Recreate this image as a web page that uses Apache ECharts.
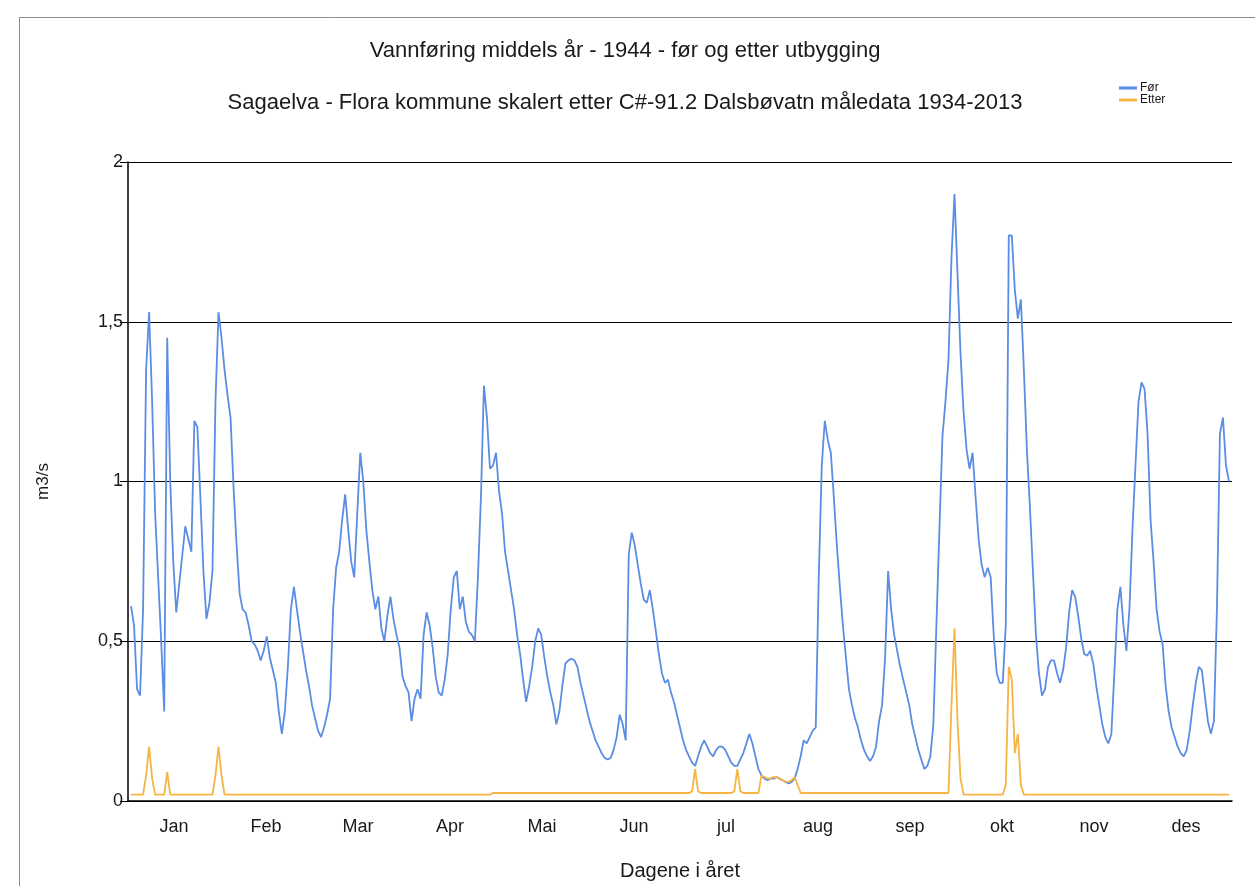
<!DOCTYPE html>
<html><head><meta charset="utf-8">
<script src="https://cdn.jsdelivr.net/npm/echarts@6/dist/echarts.min.js"></script>
<style>html,body{margin:0;padding:0;background:#fff}#c{width:1255px;height:886px}</style>
</head><body><div id="c"></div>
<script>
const tittel = "Vannføring middels år - 1944 - før og etter utbygging";
const undertittel = "Sagaelva - Flora kommune skalert etter C#-91.2 Dalsbøvatn måledata 1934-2013";
const maaneder = ["Jan","Feb","Mar","Apr","Mai","Jun","jul","aug","sep","okt","nov","des"];
const serieNavn = ["Før","Etter"];
// daily values, day 1..365
const fer = [
0.61,0.55,0.35,0.33,0.60,1.35,1.53,1.25,0.90,0.70,
0.50,0.28,1.45,1.00,0.75,0.59,0.68,0.77,0.86,0.82,
0.78,1.19,1.17,0.95,0.72,0.57,0.62,0.72,1.25,1.53,
1.45,1.35,1.27,1.20,0.98,0.80,0.65,0.60,0.59,0.55,
0.50,0.49,0.47,0.44,0.47,0.515,0.45,0.41,0.37,0.28,
0.21,0.28,0.42,0.60,0.67,0.60,0.53,0.47,0.41,0.36,
0.30,0.26,0.22,0.20,0.23,0.27,0.32,0.60,0.73,0.78,
0.88,0.96,0.85,0.75,0.70,0.90,1.09,1.00,0.85,0.75,
0.66,0.60,0.64,0.54,0.50,0.58,0.64,0.57,0.52,0.48,
0.39,0.36,0.34,0.25,0.32,0.35,0.32,0.52,0.59,0.55,
0.48,0.39,0.34,0.33,0.38,0.46,0.60,0.70,0.72,0.60,
0.64,0.56,0.53,0.52,0.50,0.70,0.95,1.30,1.20,1.04,
1.05,1.09,0.97,0.90,0.78,0.72,0.66,0.60,0.52,0.46,
0.38,0.31,0.36,0.42,0.50,0.54,0.52,0.45,0.39,0.34,
0.30,0.24,0.28,0.36,0.43,0.44,0.445,0.44,0.42,0.37,
0.33,0.29,0.25,0.22,0.19,0.17,0.15,0.135,0.13,0.135,
0.16,0.20,0.27,0.24,0.19,0.77,0.84,0.80,0.74,0.68,
0.63,0.62,0.66,0.60,0.53,0.46,0.40,0.37,0.38,0.34,
0.31,0.27,0.23,0.19,0.16,0.14,0.12,0.11,0.14,0.17,
0.19,0.17,0.15,0.14,0.16,0.17,0.17,0.16,0.14,0.12,
0.11,0.11,0.13,0.15,0.18,0.21,0.18,0.14,0.10,0.08,
0.07,0.065,0.07,0.07,0.075,0.07,0.065,0.06,0.055,0.06,
0.07,0.10,0.14,0.19,0.18,0.20,0.22,0.23,0.70,1.05,
1.19,1.13,1.09,0.95,0.80,0.67,0.55,0.45,0.35,0.30,
0.26,0.23,0.19,0.16,0.14,0.125,0.14,0.17,0.25,0.30,
0.45,0.72,0.60,0.52,0.47,0.42,0.38,0.34,0.30,0.24,
0.20,0.16,0.13,0.10,0.11,0.14,0.24,0.55,0.85,1.14,
1.25,1.38,1.70,1.90,1.65,1.40,1.22,1.10,1.04,1.09,
0.95,0.82,0.74,0.70,0.73,0.70,0.52,0.40,0.37,0.37,
0.55,1.77,1.77,1.60,1.51,1.57,1.35,1.10,0.92,0.72,
0.52,0.40,0.33,0.35,0.42,0.44,0.44,0.40,0.37,0.41,
0.48,0.59,0.66,0.64,0.58,0.51,0.46,0.455,0.47,0.43,
0.36,0.30,0.24,0.20,0.18,0.21,0.40,0.60,0.67,0.55,
0.47,0.60,0.85,1.05,1.25,1.31,1.29,1.15,0.88,0.75,
0.60,0.53,0.49,0.36,0.28,0.23,0.20,0.17,0.15,0.14,
0.16,0.22,0.30,0.37,0.42,0.41,0.33,0.25,0.21,0.25,
0.60,1.15,1.20,1.05,1.00
];
const etter = [
0.02,0.02,0.02,0.02,0.02,0.08,0.17,0.07,0.02,0.02,
0.02,0.02,0.09,0.02,0.02,0.02,0.02,0.02,0.02,0.02,
0.02,0.02,0.02,0.02,0.02,0.02,0.02,0.02,0.08,0.17,
0.08,0.02,0.02,0.02,0.02,0.02,0.02,0.02,0.02,0.02,
0.02,0.02,0.02,0.02,0.02,0.02,0.02,0.02,0.02,0.02,
0.02,0.02,0.02,0.02,0.02,0.02,0.02,0.02,0.02,0.02,
0.02,0.02,0.02,0.02,0.02,0.02,0.02,0.02,0.02,0.02,
0.02,0.02,0.02,0.02,0.02,0.02,0.02,0.02,0.02,0.02,
0.02,0.02,0.02,0.02,0.02,0.02,0.02,0.02,0.02,0.02,
0.02,0.02,0.02,0.02,0.02,0.02,0.02,0.02,0.02,0.02,
0.02,0.02,0.02,0.02,0.02,0.02,0.02,0.02,0.02,0.02,
0.02,0.02,0.02,0.02,0.02,0.02,0.02,0.02,0.02,0.02,
0.025,0.025,0.025,0.025,0.025,0.025,0.025,0.025,0.025,0.025,
0.025,0.025,0.025,0.025,0.025,0.025,0.025,0.025,0.025,0.025,
0.025,0.025,0.025,0.025,0.025,0.025,0.025,0.025,0.025,0.025,
0.025,0.025,0.025,0.025,0.025,0.025,0.025,0.025,0.025,0.025,
0.025,0.025,0.025,0.025,0.025,0.025,0.025,0.025,0.025,0.025,
0.025,0.025,0.025,0.025,0.025,0.025,0.025,0.025,0.025,0.025,
0.025,0.025,0.025,0.025,0.025,0.025,0.03,0.10,0.03,0.025,
0.025,0.025,0.025,0.025,0.025,0.025,0.025,0.025,0.025,0.025,
0.03,0.10,0.03,0.025,0.025,0.025,0.025,0.025,0.025,0.08,
0.075,0.07,0.07,0.075,0.075,0.07,0.065,0.06,0.06,0.065,
0.075,0.05,0.025,0.025,0.025,0.025,0.025,0.025,0.025,0.025,
0.025,0.025,0.025,0.025,0.025,0.025,0.025,0.025,0.025,0.025,
0.025,0.025,0.025,0.025,0.025,0.025,0.025,0.025,0.025,0.025,
0.025,0.025,0.025,0.025,0.025,0.025,0.025,0.025,0.025,0.025,
0.025,0.025,0.025,0.025,0.025,0.025,0.025,0.025,0.025,0.025,
0.025,0.025,0.30,0.54,0.25,0.07,0.02,0.02,0.02,0.02,
0.02,0.02,0.02,0.02,0.02,0.02,0.02,0.02,0.02,0.02,
0.05,0.42,0.38,0.15,0.21,0.05,0.02,0.02,0.02,0.02,
0.02,0.02,0.02,0.02,0.02,0.02,0.02,0.02,0.02,0.02,
0.02,0.02,0.02,0.02,0.02,0.02,0.02,0.02,0.02,0.02,
0.02,0.02,0.02,0.02,0.02,0.02,0.02,0.02,0.02,0.02,
0.02,0.02,0.02,0.02,0.02,0.02,0.02,0.02,0.02,0.02,
0.02,0.02,0.02,0.02,0.02,0.02,0.02,0.02,0.02,0.02,
0.02,0.02,0.02,0.02,0.02,0.02,0.02,0.02,0.02,0.02,
0.02,0.02,0.02,0.02,0.02
];

const FONT = "'Liberation Sans', Arial, sans-serif";
const BLA = '#5a8de3', ORANSJE = '#f5b443';
const chart = echarts.init(document.getElementById('c'), null, {renderer: 'canvas'});
chart.setOption({
  backgroundColor: '#fff',
  animation: false,
  title: [
    {text: tittel, left: 620, textAlign: 'center', top: 35,
     textStyle: {fontFamily: FONT, fontSize: 22, fontWeight: 'normal', color: '#1a1a1a'}},
    {text: undertittel, left: 620, textAlign: 'center', top: 87,
     textStyle: {fontFamily: FONT, fontSize: 22, fontWeight: 'normal', color: '#1a1a1a'}}
  ],
  legend: {
    data: serieNavn, orient: 'vertical', left: 1119, top: 82, padding: 0,
    itemWidth: 18, itemHeight: 3, itemGap: 0, icon: 'rect',
    textStyle: {fontFamily: FONT, fontSize: 12, lineHeight: 11, color: '#1a1a1a', padding: [0,0,0,-2]}
  },
  grid: {left: 128, right: 23, top: 162, bottom: 84, containLabel: false},
  xAxis: [
    {type: 'category', data: maaneder, boundaryGap: true,
     axisLine: {show: true, lineStyle: {color: '#000', width: 1.5}},
     axisTick: {show: false}, splitLine: {show: false},
     axisLabel: {fontFamily: FONT, fontSize: 18, color: '#1a1a1a', margin: 17},
     name: 'Dagene i året', nameLocation: 'middle', nameGap: 60,
     nameTextStyle: {fontFamily: FONT, fontSize: 20, color: '#1a1a1a'}},
    {type: 'value', min: 0, max: 366, show: false}
  ],
  yAxis: {
    type: 'value', min: 0, max: 2, interval: 0.5,
    axisLine: {show: true, lineStyle: {color: '#000', width: 1.5}},
    axisTick: {show: true, length: 8, lineStyle: {color: '#000'}},
    splitLine: {show: true, lineStyle: {color: '#000', width: 1}},
    axisLabel: {fontFamily: FONT, fontSize: 18, color: '#1a1a1a', margin: 5,
      formatter: v => String(v).replace('.', ',')},
    name: 'm3/s', nameLocation: 'middle', nameRotate: 90, nameGap: 76,
    nameTextStyle: {fontFamily: FONT, fontSize: 17, color: '#1a1a1a'}
  },
  series: [
    {name: serieNavn[0], type: 'line', xAxisIndex: 1, showSymbol: false, symbol: 'none',
     data: fer.map((v, i) => [i + 1, v]),
     lineStyle: {color: BLA, width: 1.8}, itemStyle: {color: BLA}},
    {name: serieNavn[1], type: 'line', xAxisIndex: 1, showSymbol: false, symbol: 'none',
     data: etter.map((v, i) => [i + 1, v]),
     lineStyle: {color: ORANSJE, width: 1.8}, itemStyle: {color: ORANSJE}}
  ],
  graphic: [{type: 'rect', shape: {x: 19.5, y: 17.5, width: 1250, height: 880},
    style: {fill: 'none', stroke: '#8c8c8c', lineWidth: 1}, silent: true}]
});
</script></body></html>
